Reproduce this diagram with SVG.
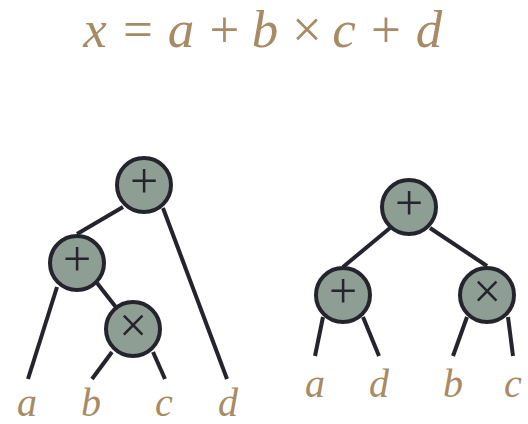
<svg xmlns="http://www.w3.org/2000/svg" width="528" height="424" viewBox="0 0 528 424">
<style>
.lbl{font-family:"Liberation Serif","Times New Roman",serif;font-style:italic;fill:#a88b64;font-size:40px;text-anchor:middle}
.ttl text{font-family:"Liberation Serif","Times New Roman",serif;fill:#a88b64;font-size:53px;text-anchor:middle}
.ttl .i{font-style:italic}
.node circle{fill:#8f9e94;stroke:#24242c;stroke-width:4}
.node text{font-family:"Liberation Serif","Times New Roman",serif;fill:#24242c;font-size:50px;text-anchor:middle}
.edges line{stroke:#24242c;stroke-width:4}
</style>
<rect width="528" height="424" fill="#fff"/>
<g class="ttl">
<text class="i" x="95" y="47">x</text>
<text x="138" y="47">=</text>
<text class="i" x="181" y="47">a</text>
<text x="224.5" y="47">+</text>
<text class="i" x="265" y="47">b</text>
<text x="307" y="47">×</text>
<text class="i" x="344" y="47">c</text>
<text x="386" y="47">+</text>
<text class="i" x="429" y="47">d</text>
</g>
<g class="edges">
<line x1="123" y1="207" x2="77" y2="234"/>
<line x1="163" y1="208" x2="227" y2="379"/>
<line x1="57" y1="287" x2="28" y2="379"/>
<line x1="97" y1="283" x2="133" y2="329"/>
<line x1="112" y1="352" x2="92" y2="379"/>
<line x1="153" y1="352" x2="165" y2="379"/>
<line x1="390" y1="228" x2="343" y2="267"/>
<line x1="430" y1="228" x2="487" y2="266"/>
<line x1="323" y1="317" x2="315" y2="356"/>
<line x1="363" y1="317" x2="379" y2="356"/>
<line x1="467" y1="317" x2="453" y2="356"/>
<line x1="508" y1="317" x2="513" y2="356"/>
</g>
<g id="L_root" class="node"><circle cx="144" cy="185" r="27"/><text x="144" y="198">+</text></g>
<g id="L_plus" class="node"><circle cx="77" cy="263" r="27"/><text x="77" y="276">+</text></g>
<g id="L_times" class="node"><circle cx="133" cy="329" r="27"/><text x="133" y="342">×</text></g>
<g id="R_root" class="node"><circle cx="409" cy="207" r="27"/><text x="409" y="220">+</text></g>
<g id="R_plus" class="node"><circle cx="343" cy="295" r="27"/><text x="343" y="308">+</text></g>
<g id="R_times" class="node"><circle cx="487" cy="295" r="27"/><text x="487" y="308">×</text></g>
<g id="labels">
<text class="lbl" x="27" y="416">a</text>
<text class="lbl" x="91" y="416">b</text>
<text class="lbl" x="164" y="416">c</text>
<text class="lbl" x="228" y="416">d</text>
<text class="lbl" x="315" y="397">a</text>
<text class="lbl" x="379" y="397">d</text>
<text class="lbl" x="453" y="397">b</text>
<text class="lbl" x="513" y="397">c</text>
</g>
</svg>
